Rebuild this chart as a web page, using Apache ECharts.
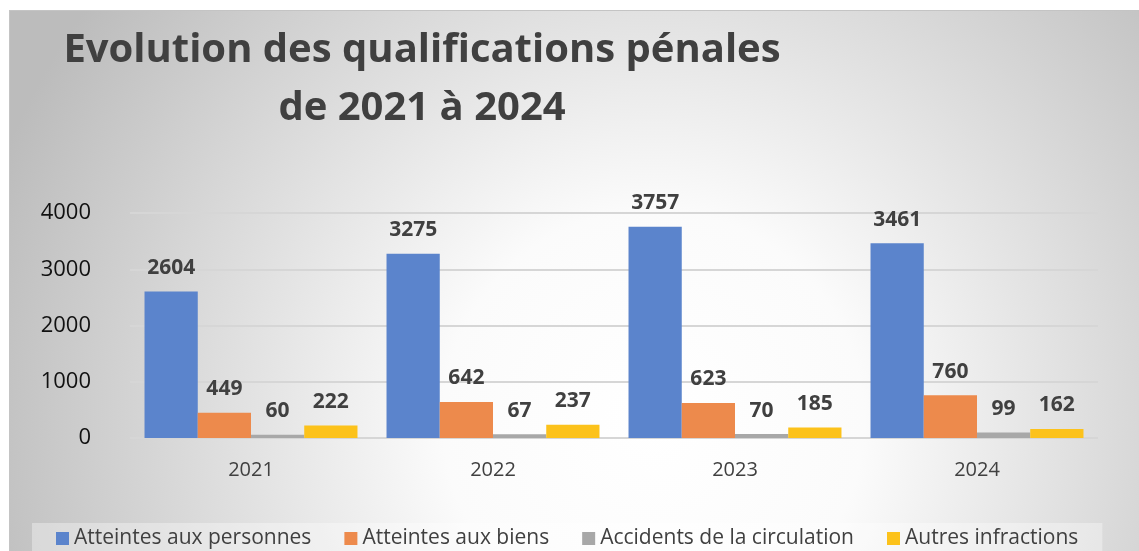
<!DOCTYPE html>
<html lang="fr">
<head>
    <meta charset="UTF-8">
    <title>Evolution des qualifications pénales</title>
    <script src="https://cdn.jsdelivr.net/npm/echarts@6/dist/echarts.min.js"></script>
    <style>
        *{
            margin: 0;
            padding: 0;
        }
        body{
            width: 1139px;
            height: 551px;
            overflow: hidden;
            background: #fff;
        }
        .container{
            position: absolute;
            left: 9px;
            top: 10px;
            width: 1130px;
            height: 541px;
            border-top: 1px solid #c4c4c4;
            border-left: 1px solid #c4c4c4;
            box-sizing: border-box;
        }
    </style>
</head>
<body>
<div class="container"></div>
<script>
    // données
    let years = ['2021', '2022', '2023', '2024'];
    let personnes = [2604, 3275, 3757, 3461];
    let biens = [449, 642, 623, 760];
    let circulation = [60, 67, 70, 99];
    let autres = [222, 237, 185, 162];
    let yTicks = [0, 1000, 2000, 3000, 4000];

    let names = ['Atteintes aux personnes', 'Atteintes aux biens', 'Accidents de la circulation', 'Autres infractions'];
    let colors = ['#5b84cc', '#ed8a4c', '#a8a8a8', '#fcc21b'];
    let values = [personnes, biens, circulation, autres];

    let container = document.querySelector('.container');
    let mycharts = echarts.init(container);

    let series = names.map((name, i) => ({
        name: name,
        type: 'bar',
        data: values[i],
        barGap: 0,
        barCategoryGap: '12%',
        itemStyle: {
            color: colors[i]
        },
        label: {
            show: true,
            position: 'top',
            distance: 13,
            fontSize: 21,
            fontWeight: 'bold',
            color: '#404040',
            fontFamily: 'Open Sans'
        }
    }));

    let options = {
        backgroundColor: new echarts.graphic.RadialGradient(0.57, 0.76, 1.3, [{
            offset: 0,
            color: '#ffffff'
        }, {
            offset: 0.3,
            color: '#fbfbfb'
        }, {
            offset: 1,
            color: '#bcbcbc'
        }]),
        title: {
            text: 'Evolution des qualifications pénales\nde 2021 à 2024',
            left: 407,
            top: 6,
            textAlign: 'center',
            textStyle: {
                fontFamily: 'Open Sans',
                fontSize: 40,
                fontWeight: 'bold',
                color: '#404040',
                lineHeight: 58
            }
        },
        legend: {
            data: names,
            bottom: -8,
            left: 22,
            itemWidth: 13,
            itemHeight: 13,
            itemGap: 33,
            icon: 'rect',
            padding: [5, 24, 10, 24],
            backgroundColor: 'rgba(255,255,255,0.35)',
            textStyle: {
                fontFamily: 'Open Sans',
                fontSize: 21,
                color: '#404040'
            }
        },
        grid: {
            left: 120,
            right: 41,
            top: 202,
            bottom: 113,
            containLabel: false
        },
        xAxis: {
            type: 'category',
            data: years,
            axisLine: {show: false},
            axisTick: {show: false},
            axisLabel: {
                margin: 22,
                fontFamily: 'Open Sans',
                fontSize: 20,
                color: '#404040'
            }
        },
        yAxis: {
            type: 'value',
            min: yTicks[0],
            max: yTicks[yTicks.length - 1],
            interval: 1000,
            axisLabel: {
                margin: 39,
                fontFamily: 'Open Sans',
                fontSize: 22,
                color: '#111',
                formatter: v => String(v)
            },
            splitLine: {
                lineStyle: {
                    color: '#d6d6d6',
                    width: 2
                }
            }
        },
        series
    };

    mycharts.setOption(options);
</script>
</body>
</html>
